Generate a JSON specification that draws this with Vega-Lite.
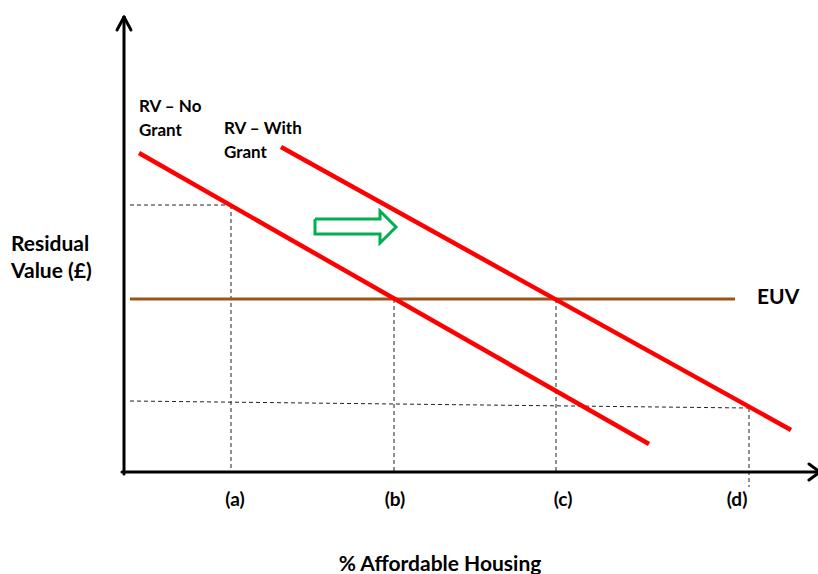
{
  "$schema": "https://vega.github.io/schema/vega-lite/v6.json",
  "width": 818,
  "height": 574,
  "padding": 0,
  "autosize": "none",
  "background": "white",
  "config": {"view": {"stroke": null}},
  "datasets": {
    "segs": [
      {"kind": "axis", "x": 124, "y": 100, "x2": 124, "y2": 557},
      {"kind": "axis", "x": 122, "y": 102, "x2": 820, "y2": 102},
      {"kind": "axis", "x": 117, "y": 544, "x2": 124, "y2": 557},
      {"kind": "axis", "x": 131, "y": 544, "x2": 124, "y2": 557},
      {"kind": "axis", "x": 809, "y": 110, "x2": 820, "y2": 102},
      {"kind": "axis", "x": 809, "y": 94, "x2": 820, "y2": 102},
      {"kind": "dash", "x": 130, "y": 369, "x2": 231, "y2": 369},
      {"kind": "dash", "x": 231, "y": 369, "x2": 231, "y2": 104},
      {"kind": "dash", "x": 394, "y": 275, "x2": 394, "y2": 102},
      {"kind": "dash", "x": 556, "y": 275, "x2": 556, "y2": 102},
      {"kind": "dash", "x": 130, "y": 173, "x2": 748, "y2": 166},
      {"kind": "dash", "x": 749, "y": 166, "x2": 749, "y2": 87},
      {"kind": "rv", "x": 139, "y": 421, "x2": 649, "y2": 130},
      {"kind": "rv", "x": 281, "y": 427, "x2": 791, "y2": 144},
      {"kind": "euv", "x": 130, "y": 275, "x2": 735, "y2": 275}
    ],
    "arrow": [
      {"i": 0, "x": 315, "y": 355},
      {"i": 1, "x": 380, "y": 355},
      {"i": 2, "x": 380, "y": 363},
      {"i": 3, "x": 396, "y": 347},
      {"i": 4, "x": 380, "y": 331},
      {"i": 5, "x": 380, "y": 340},
      {"i": 6, "x": 315, "y": 340},
      {"i": 7, "x": 315, "y": 355}
    ],
    "labels": [
      {"kind": "curve", "x": 139, "y": 467, "text": "RV – No"},
      {"kind": "curve", "x": 139, "y": 443, "text": "Grant"},
      {"kind": "curve", "x": 224, "y": 445, "text": "RV – With"},
      {"kind": "curve", "x": 224, "y": 421, "text": "Grant"},
      {"kind": "big", "x": 757, "y": 276, "text": "EUV"},
      {"kind": "big", "x": 11, "y": 329, "text": "Residual"},
      {"kind": "big", "x": 11, "y": 302, "text": "Value (£)"},
      {"kind": "tick", "x": 235, "y": 74, "text": "(a)"},
      {"kind": "tick", "x": 395, "y": 74, "text": "(b)"},
      {"kind": "tick", "x": 563, "y": 74, "text": "(c)"},
      {"kind": "tick", "x": 737, "y": 74, "text": "(d)"},
      {"kind": "title", "x": 440, "y": 9, "text": "% Affordable Housing"}
    ]
  },
  "encoding": {
    "x": {"field": "x", "type": "quantitative", "scale": {"domain": [0, 818], "nice": false, "zero": false}, "axis": null},
    "y": {"field": "y", "type": "quantitative", "scale": {"domain": [0, 574], "nice": false, "zero": false}, "axis": null}
  },
  "layer": [
    {
      "data": {"name": "segs"},
      "transform": [{"filter": "datum.kind === 'dash'"}],
      "mark": {"type": "rule", "color": "#222222", "strokeWidth": 1, "strokeDash": [4, 3], "clip": true},
      "encoding": {"x2": {"field": "x2"}, "y2": {"field": "y2"}}
    },
    {
      "data": {"name": "segs"},
      "transform": [{"filter": "datum.kind === 'euv'"}],
      "mark": {"type": "rule", "color": "#9c5418", "strokeWidth": 3},
      "encoding": {"x2": {"field": "x2"}, "y2": {"field": "y2"}}
    },
    {
      "data": {"name": "segs"},
      "transform": [{"filter": "datum.kind === 'rv'"}],
      "mark": {"type": "rule", "color": "#ff0000", "strokeWidth": 4.5},
      "encoding": {"x2": {"field": "x2"}, "y2": {"field": "y2"}}
    },
    {
      "data": {"name": "segs"},
      "transform": [{"filter": "datum.kind === 'axis'"}],
      "mark": {"type": "rule", "color": "#000000", "strokeWidth": 3, "strokeCap": "round"},
      "encoding": {"x2": {"field": "x2"}, "y2": {"field": "y2"}}
    },
    {
      "data": {"name": "arrow"},
      "mark": {"type": "line", "color": "#00b050", "strokeWidth": 3, "strokeJoin": "miter"},
      "encoding": {"order": {"field": "i", "type": "quantitative"}}
    },
    {
      "data": {"name": "labels"},
      "transform": [{"filter": "datum.kind === 'curve'"}],
      "mark": {"type": "text", "align": "left", "baseline": "middle", "font": "Lato", "fontWeight": "bold", "fontSize": 17, "color": "#000000"},
      "encoding": {"text": {"field": "text"}}
    },
    {
      "data": {"name": "labels"},
      "transform": [{"filter": "datum.kind === 'big'"}],
      "mark": {"type": "text", "align": "left", "baseline": "middle", "font": "Lato", "fontWeight": "bold", "fontSize": 21, "color": "#000000"},
      "encoding": {"text": {"field": "text"}}
    },
    {
      "data": {"name": "labels"},
      "transform": [{"filter": "datum.kind === 'tick'"}],
      "mark": {"type": "text", "align": "center", "baseline": "middle", "font": "Lato", "fontWeight": "bold", "fontSize": 19, "color": "#000000"},
      "encoding": {"text": {"field": "text"}}
    },
    {
      "data": {"name": "labels"},
      "transform": [{"filter": "datum.kind === 'title'"}],
      "mark": {"type": "text", "align": "center", "baseline": "middle", "font": "Lato", "fontWeight": "bold", "fontSize": 21, "color": "#000000"},
      "encoding": {"text": {"field": "text"}}
    }
  ]
}
